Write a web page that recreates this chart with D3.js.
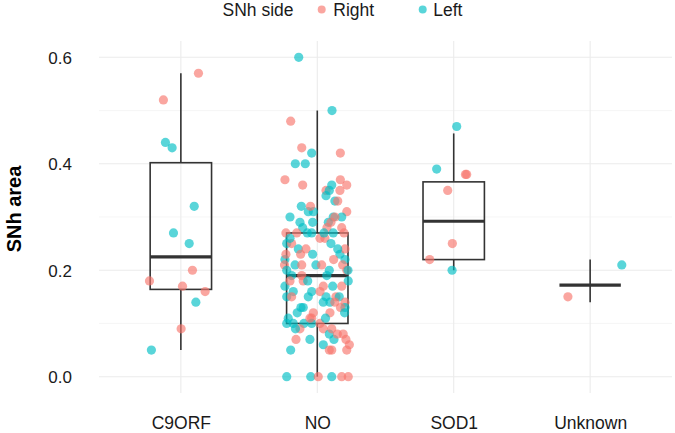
<!DOCTYPE html>
<html>
<head>
<meta charset="utf-8">
<script src="https://cdn.jsdelivr.net/npm/d3@7"></script>
<style>
  html, body { margin: 0; padding: 0; background: #ffffff; }
  svg { display: block; font-family: "Liberation Sans", Arial, Helvetica, sans-serif; }
</style>
</head>
<body>
<svg id="chart" width="675" height="433"></svg>
<script>
// ---------------- data ----------------
const categories = ["C9ORF", "NO", "SOD1", "Unknown"];
const sideLabels = ["Right", "Left"];
const yTicks = [0.0, 0.2, 0.4, 0.6];
const yMinorTicks = [0.1, 0.3, 0.5];

// box-plot statistics
const whiskerLow  = [0.05, 0.00, 0.20, 0.14];
const boxQ1       = [0.164, 0.10, 0.22, 0.172];
const boxMedian   = [0.225, 0.19, 0.292, 0.172];
const boxQ3       = [0.402, 0.27, 0.366, 0.172];
const whiskerHigh = [0.57, 0.50, 0.457, 0.22];

// points: [value, side (R/L), jitter in category units]
const c9orfPoints = [
  [0.57,"R",0.129],[0.52,"R",-0.128],[0.44,"L",-0.113],[0.43,"L",-0.064],
  [0.32,"L",0.098],[0.27,"L",-0.054],[0.25,"L",0.061],[0.20,"R",0.085],
  [0.18,"R",-0.23],[0.17,"R",0.012],[0.16,"R",0.178],[0.14,"L",0.11],
  [0.09,"R",0.002],[0.05,"L",-0.216]
];
const noPoints = [
  [0.60,"L",-0.136],[0.50,"L",0.108],[0.48,"R",-0.195],[0.43,"R",-0.114],
  [0.42,"L",-0.041],[0.42,"R",0.169],[0.40,"L",-0.161],[0.40,"L",-0.088],
  [0.37,"R",-0.237],[0.37,"R",0.169],[0.36,"R",-0.107],[0.36,"R",0.216],
  [0.36,"L",0.106],[0.35,"R",0.064],[0.35,"L",0.088],[0.35,"R",0.166],
  [0.34,"L",0.064],[0.33,"L",0.129],[0.32,"L",-0.117],[0.31,"L",-0.066],
  [0.31,"L",-0.029],[0.31,"R",0.216],[0.30,"L",-0.20],[0.30,"L",0.117],
  [0.30,"L",0.179],[0.30,"R",0.129],[0.29,"L",-0.127],[0.29,"L",-0.034],
  [0.29,"L",0.081],[0.29,"R",0.10],[0.28,"R",0.179],[0.28,"R",0.071],
  [0.28,"L",-0.107],[0.27,"L",-0.073],[0.27,"L",-0.041],[0.27,"L",0.117],
  [0.27,"R",-0.23],[0.27,"R",-0.151],[0.26,"R",0.02],[0.26,"R",0.056],
  [0.27,"L",0.049],[0.27,"R",0.196],[0.25,"L",-0.224],[0.25,"R",-0.188],
  [0.24,"L",-0.139],[0.23,"R",-0.122],[0.24,"R",-0.083],[0.23,"L",-0.034],
  [0.23,"L",0.166],[0.24,"R",0.203],[0.22,"L",0.203],[0.22,"L",-0.237],
  [0.23,"R",-0.23],[0.21,"R",-0.24],[0.21,"L",-0.163],[0.21,"R",-0.114],
  [0.21,"L",-0.01],[0.21,"R",0.032],[0.21,"R",0.186],[0.20,"L",0.088],
  [0.20,"L",-0.224],[0.19,"L",-0.188],[0.19,"R",-0.114],[0.20,"R",0.216],
  [0.20,"L",0.225],[0.18,"L",0.227],[0.17,"L",-0.237],[0.18,"R",-0.20],
  [0.16,"L",-0.176],[0.15,"L",-0.224],[0.18,"R",-0.103],[0.16,"L",-0.041],
  [0.17,"R",0.044],[0.17,"L",0.113],[0.17,"R",0.179],[0.15,"R",0.137],
  [0.15,"L",0.064],[0.15,"R",-0.188],[0.15,"L",-0.066],[0.14,"L",0.044],
  [0.14,"L",0.093],[0.15,"L",0.161],[0.14,"R",0.203],[0.14,"R",0.129],
  [0.13,"L",0.203],[0.12,"L",-0.147],[0.13,"L",-0.103],[0.12,"R",-0.029],
  [0.12,"R",0.093],[0.11,"L",-0.213],[0.11,"R",-0.041],[0.10,"L",-0.176],
  [0.10,"L",-0.224],[0.10,"L",-0.098],[0.10,"L",-0.041],[0.11,"R",-0.054],
  [0.10,"R",0.02],[0.09,"R",-0.127],[0.09,"R",0.044],[0.08,"L",0.088],
  [0.09,"R",0.106],[0.07,"L",0.122],[0.08,"R",0.147],[0.08,"R",0.19],
  [0.07,"R",0.21],[0.07,"R",-0.156],[0.07,"L",-0.054],[0.06,"L",0.044],
  [0.06,"R",0.235],[0.05,"R",0.088],[0.05,"R",0.106],[0.05,"R",0.216],
  [0.05,"L",-0.195],[0.00,"L",-0.224],[0.00,"L",-0.048],[0.00,"R",0.007],
  [0.00,"L",0.106],[0.00,"R",0.179],[0.00,"R",0.227],
  [0.33,"R",0.15],[0.32,"R",-0.05],[0.26,"L",-0.2],[0.25,"L",0.10],
  [0.24,"L",0.15],[0.22,"R",0.12],[0.19,"L",0.07],[0.18,"L",-0.07],
  [0.16,"R",0.02],[0.13,"L",-0.12],[0.13,"R",0.17],[0.12,"L",0.20],
  [0.11,"L",0.06],[0.09,"L",-0.16]
];
const sod1Points = [
  [0.47,"L",0.022],[0.39,"L",-0.125],[0.38,"R",0.086],[0.38,"R",0.095],
  [0.35,"R",-0.044],[0.25,"R",-0.01],[0.22,"R",-0.176],[0.20,"L",-0.012]
];
const unknownPoints = [
  [0.21,"L",0.232],[0.15,"R",-0.163]
];
const pointsByCategory = [c9orfPoints, noPoints, sod1Points, unknownPoints];

// ---------------- drawing ----------------
const svg = d3.select("#chart");
const panel = { left: 99, right: 672, top: 41, bottom: 393 };

const x = d3.scalePoint().domain(categories).range([panel.left, panel.right]).padding(0.6);
const step = x.step();
const y = d3.scaleLinear().domain([0, 0.6]).range([376.7, 57.3]);
const color = d3.scaleOrdinal().domain(["R", "L"]).range(["#F8766D", "#00BFC4"]);

const grid = svg.append("g");
grid.selectAll("line.minor").data(yMinorTicks).join("line")
  .attr("x1", panel.left).attr("x2", panel.right)
  .attr("y1", d => y(d)).attr("y2", d => y(d))
  .attr("stroke", "#f2f2f2").attr("stroke-width", 0.7);
grid.selectAll("line.major").data(yTicks).join("line")
  .attr("x1", panel.left).attr("x2", panel.right)
  .attr("y1", d => y(d)).attr("y2", d => y(d))
  .attr("stroke", "#ebebeb").attr("stroke-width", 1.1);
grid.selectAll("line.v").data(categories).join("line")
  .attr("x1", d => x(d)).attr("x2", d => x(d))
  .attr("y1", panel.top).attr("y2", panel.bottom)
  .attr("stroke", "#ebebeb").attr("stroke-width", 1.1);

// y axis (labels only)
const yAxis = d3.axisLeft(y).tickValues(yTicks).tickFormat(d3.format(".1f")).tickSize(0).tickPadding(0);
const yAxisG = svg.append("g").attr("transform", "translate(72,0)").call(yAxis);
yAxisG.select(".domain").remove();
yAxisG.selectAll("text").attr("font-size", 17).attr("fill", "#1a1a1a")
  .attr("font-family", "'Liberation Sans', Arial, sans-serif").attr("dy", "0.36em");

// x axis (labels only)
const xAxis = d3.axisBottom(x).tickSize(0).tickPadding(0);
const xAxisG = svg.append("g").attr("transform", "translate(0,429)").call(xAxis);
xAxisG.select(".domain").remove();
xAxisG.selectAll("text").attr("font-size", 17.5).attr("fill", "#1a1a1a")
  .attr("font-family", "'Liberation Sans', Arial, sans-serif").attr("dy", "0");

// y axis title
svg.append("text")
  .attr("transform", "translate(20.5,209) rotate(-90)")
  .attr("text-anchor", "middle")
  .attr("font-size", 20).attr("font-weight", "bold").attr("fill", "#000")
  .text("SNh area");

// boxes
const boxW = step * 0.45;
const boxes = svg.append("g");
categories.forEach((c, i) => {
  const cx = x(c);
  const g = boxes.append("g");
  g.append("line").attr("x1", cx).attr("x2", cx)
    .attr("y1", y(boxQ3[i])).attr("y2", y(whiskerHigh[i]))
    .attr("stroke", "#333333").attr("stroke-width", 1.6);
  g.append("line").attr("x1", cx).attr("x2", cx)
    .attr("y1", y(boxQ1[i])).attr("y2", y(whiskerLow[i]))
    .attr("stroke", "#333333").attr("stroke-width", 1.6);
  g.append("rect").attr("x", cx - boxW / 2).attr("width", boxW)
    .attr("y", y(boxQ3[i])).attr("height", Math.max(0, y(boxQ1[i]) - y(boxQ3[i])))
    .attr("fill", "none").attr("stroke", "#333333").attr("stroke-width", 1.6);
  g.append("line").attr("x1", cx - boxW / 2).attr("x2", cx + boxW / 2)
    .attr("y1", y(boxMedian[i])).attr("y2", y(boxMedian[i]))
    .attr("stroke", "#333333").attr("stroke-width", 3.2);
});

// points
const pts = svg.append("g");
categories.forEach((c, i) => {
  pts.selectAll(null).data(pointsByCategory[i]).join("circle")
    .attr("cx", d => x(c) + d[2] * step)
    .attr("cy", d => y(d[0]))
    .attr("r", 4.6)
    .attr("fill", d => color(d[1]))
    .attr("fill-opacity", 0.65);
});

// legend
const legend = svg.append("g").attr("font-size", 17.5).attr("fill", "#1a1a1a");
legend.append("text").attr("x", 222.5).attr("y", 15.7).text("SNh side");
const legendItems = [["R", sideLabels[0], 321.7, 333.3], ["L", sideLabels[1], 422.7, 433.3]];
legendItems.forEach(([k, label, cxp, tx]) => {
  legend.append("circle").attr("cx", cxp).attr("cy", 9.5).attr("r", 4)
    .attr("fill", color(k)).attr("fill-opacity", 0.65);
  legend.append("text").attr("x", tx).attr("y", 15.7).text(label);
});
</script>
</body>
</html>
